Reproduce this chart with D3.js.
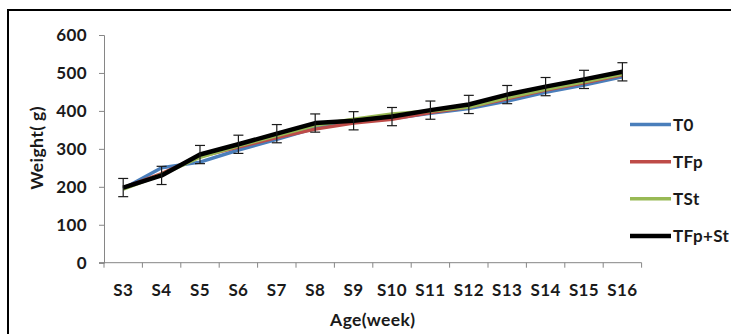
<!DOCTYPE html>
<html>
<head>
<meta charset="utf-8">
<script src="https://cdn.jsdelivr.net/npm/d3@7"></script>
<style>
  body { margin: 0; background: #fff; }
  text { font-family: Lato, "Open Sans", sans-serif; font-weight: bold; fill: #1a1a1a; letter-spacing: 0.4px; }
</style>
</head>
<body>
<div id="chart"></div>
<script>
const weeks = ['S3','S4','S5','S6','S7','S8','S9','S10','S11','S12','S13','S14','S15','S16'];
const t0 = [195, 250, 265, 297, 325, 355, 372, 380, 394, 406, 426, 449, 468, 490];
const tfp = [197, 235, 280, 305, 330, 352, 368, 378, 396, 410, 432, 455, 474, 495];
const tst = [194, 232, 278, 308, 335, 362, 378, 392, 400, 410, 435, 457, 477, 497];
const tfpSt = [198, 230, 285, 312, 340, 368, 374, 385, 402, 417, 443, 464, 483, 503];
const errBar = [24, 24, 24, 24, 24, 24, 24, 24, 24, 24, 24, 24, 24, 24];
const yTicks = [0, 100, 200, 300, 400, 500, 600];

const series = [
  { name: 'T0', values: t0, color: '#4a7ebb', w: 3.5 },
  { name: 'TFp', values: tfp, color: '#be4b48', w: 3.5 },
  { name: 'TSt', values: tst, color: '#98b954', w: 3.5 },
  { name: 'TFp+St', values: tfpSt, color: '#000000', w: 4.5 }
];

const svg = d3.select('#chart').append('svg')
  .attr('width', 731)
  .attr('height', 334);

// outer frame (right and bottom edges fall outside the picture)
svg.append('rect')
  .attr('x', 8).attr('y', 10)
  .attr('width', 740).attr('height', 340)
  .attr('fill', 'none').attr('stroke', '#000').attr('stroke-width', 2);

const x = d3.scaleBand().domain(weeks).range([104, 641.6]);
const y = d3.scaleLinear().domain([0, 600]).range([262.7, 35]);

// y axis
const yAxis = svg.append('g')
  .attr('transform', 'translate(104,0)')
  .call(d3.axisLeft(y).tickValues(yTicks).tickSize(5).tickPadding(12));
yAxis.select('.domain').attr('stroke', '#868686');
yAxis.selectAll('.tick line').attr('stroke', '#868686');
yAxis.selectAll('.tick text').attr('font-size', 17).attr('fill', '#1a1a1a')
  .attr('font-family', null);

// x axis, ticks on band edges
const xAxis = svg.append('g')
  .attr('transform', 'translate(0,262.7)');
xAxis.append('line')
  .attr('x1', x.range()[0] - 5).attr('x2', x.range()[1])
  .attr('stroke', '#868686');
const edges = weeks.map(d => x(d)).concat([x.range()[1]]);
xAxis.selectAll('line.tk').data(edges).enter().append('line')
  .attr('class', 'tk')
  .attr('x1', d => d).attr('x2', d => d)
  .attr('y1', 0).attr('y2', 5)
  .attr('stroke', '#868686');
xAxis.selectAll('text').data(weeks).enter().append('text')
  .attr('x', d => x(d) + x.bandwidth() / 2)
  .attr('y', 33)
  .attr('text-anchor', 'middle')
  .attr('font-size', 17)
  .text(d => d);

svg.append('text')
  .attr('x', (x.range()[0] + x.range()[1]) / 2)
  .attr('y', 326)
  .attr('text-anchor', 'middle')
  .attr('font-size', 17.5)
  .text('Age(week)');

svg.append('text')
  .attr('transform', 'translate(43,148) rotate(-90)')
  .attr('text-anchor', 'middle')
  .attr('font-size', 17.5)
  .text('Weight( g)');

const cx = d => x(d) + x.bandwidth() / 2;

const line = d3.line()
  .x((d, i) => cx(weeks[i]))
  .y(d => y(d));

svg.selectAll('path.series').data(series).enter().append('path')
  .attr('class', 'series')
  .attr('d', d => line(d.values))
  .attr('fill', 'none')
  .attr('stroke', d => d.color)
  .attr('stroke-width', d => d.w)
  .attr('stroke-linejoin', 'round');

// error bars on the TFp+St series
const eb = svg.append('g').attr('stroke', '#1a1a1a').attr('stroke-width', 1.2);
weeks.forEach((w, i) => {
  const xc = cx(w);
  const lo = y(tfpSt[i] - errBar[i]);
  const hi = y(tfpSt[i] + errBar[i]);
  eb.append('line').attr('x1', xc).attr('x2', xc).attr('y1', lo).attr('y2', hi);
  eb.append('line').attr('x1', xc - 5).attr('x2', xc + 5).attr('y1', lo).attr('y2', lo);
  eb.append('line').attr('x1', xc - 5).attr('x2', xc + 5).attr('y1', hi).attr('y2', hi);
});

// legend
const lg = svg.append('g');
const ly = d3.scalePoint().domain(series.map(d => d.name)).range([124.5, 236]);
series.forEach(s => {
  lg.append('line')
    .attr('x1', 630).attr('x2', 671)
    .attr('y1', ly(s.name)).attr('y2', ly(s.name))
    .attr('stroke', s.color).attr('stroke-width', s.w);
  lg.append('text')
    .attr('x', 673).attr('y', ly(s.name))
    .attr('dy', '0.36em')
    .attr('font-size', 17)
    .text(s.name);
});
</script>
</body>
</html>
